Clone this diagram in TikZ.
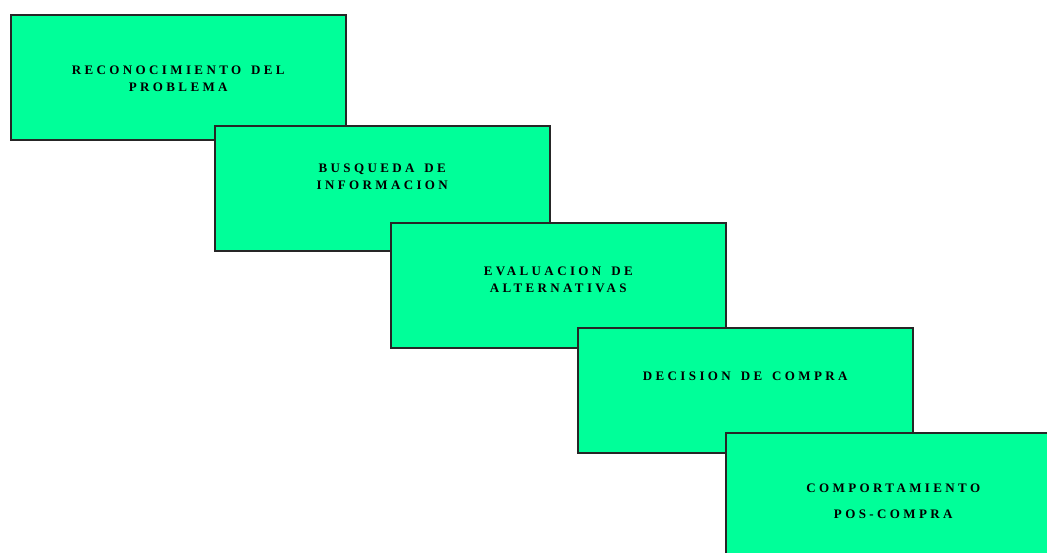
\documentclass[tikz,border=0pt]{standalone}
\usepackage{fontspec}
\usepackage{tikz}
\usetikzlibrary{positioning}
\newfontfamily\etapafont[LetterSpace=26, WordSpace=1.5, BoldFont={Liberation Serif Bold}]{Liberation Serif}
\definecolor{etapagreen}{RGB}{0,255,153}

\begin{document}
\begin{tikzpicture}[x=1pt, y=-1pt,
    etapa/.style={draw=black!85, line width=1.5pt, fill=etapagreen, rectangle, anchor=north west, minimum width=335pt, minimum height=125pt, inner sep=0pt},
    etiqueta/.style={anchor=north, align=center, inner sep=0pt, font=\etapafont\bfseries\fontsize{13}{17}\selectfont}
]
    \useasboundingbox[fill=white] (0,0) rectangle (1047,552);

    \node[etapa] (b1) at (10,14) {};
    \node[etiqueta, below=51.5pt of b1.north] (t1) {RECONOCIMIENTO DEL\\PROBLEMA};

    \node[etapa] (b2) at (214,125) {};
    \node[etiqueta, below=38.5pt of b2.north] (t2) {BUSQUEDA DE\\INFORMACION};

    \node[etapa] (b3) at (390,222) {};
    \node[etiqueta, below=44.5pt of b3.north] (t3) {EVALUACION DE\\ALTERNATIVAS};

    \node[etapa] (b4) at (577,327) {};
    \node[etiqueta, below=44.5pt of b4.north] (t4) {DECISION DE COMPRA};

    \node[etapa] (b5) at (725,432) {};
    \node[etiqueta, below=51.5pt of b5.north] (t5) {COMPORTAMIENTO\\[9pt]POS-COMPRA};
\end{tikzpicture}
\end{document}
